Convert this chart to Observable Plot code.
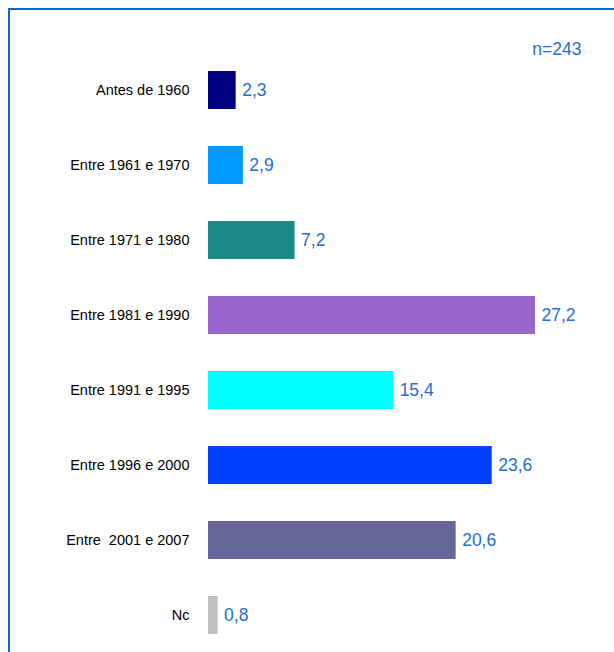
<!DOCTYPE html>
<html>
<head>
<meta charset="utf-8">
<script src="https://cdn.jsdelivr.net/npm/d3@7"></script>
<script src="https://cdn.jsdelivr.net/npm/@observablehq/plot@0.6"></script>
<style>
  html, body { margin: 0; padding: 0; background: #fff; }
  #wrap { position: relative; width: 614px; height: 652px; overflow: hidden; }
  #border { position: absolute; left: 8px; top: 8px; right: -4px; bottom: -4px;
            border-top: 2px solid #1565c0; border-left: 2px solid #1565c0; pointer-events: none; }
  svg { white-space: pre; }
</style>
</head>
<body>
<div id="wrap"><div id="border"></div></div>
<script>
const categories = ["Antes de 1960", "Entre 1961 e 1970", "Entre 1971 e 1980", "Entre 1981 e 1990",
  "Entre 1991 e 1995", "Entre 1996 e 2000", "Entre  2001 e 2007", "Nc"];
const values = [2.3, 2.9, 7.2, 27.2, 15.4, 23.6, 20.6, 0.8];
const colors = ["#000080", "#0099ff", "#1a8a88", "#9966cc", "#00ffff", "#0040ff", "#666699", "#c0c0c0"];
const sampleLabel = "n=243";

const data = categories.map((c, i) => ({ cat: c, value: values[i], color: colors[i] }));
const fmt = v => v.toFixed(1).replace(".", ",");

const chart = Plot.plot({
  width: 614,
  height: 652,
  marginLeft: 208,
  marginRight: 79,
  marginTop: 52.5,
  marginBottom: -0.5,
  style: { fontFamily: "Liberation Sans, Arial, sans-serif", background: "transparent" },
  x: { domain: [0, 27.2], axis: null },
  y: { domain: categories, paddingInner: 0.5, paddingOuter: 0.25, label: null,
       tickSize: 0, tickPadding: 19 },
  marks: [
    Plot.barX(data, { x: "value", y: "cat", fill: "color" }),
    Plot.axisY({ tickSize: 0, tickPadding: 19, fontSize: 14.5, fill: "#000", label: null,
                 style: { letterSpacing: "-0.3px" } }),
    Plot.text(data, { x: "value", y: "cat", text: d => fmt(d.value), textAnchor: "start", dx: 6,
                      fill: "#1e6fcf", fontSize: 17.5 }),
    Plot.text([sampleLabel], { frameAnchor: "top-right", text: d => d, textAnchor: "end",
                      dx: 46, dy: -10.5, fill: "#1e6fcf", fontSize: 17.5 })
  ]
});
document.getElementById("wrap").prepend(chart);
</script>
</body>
</html>
